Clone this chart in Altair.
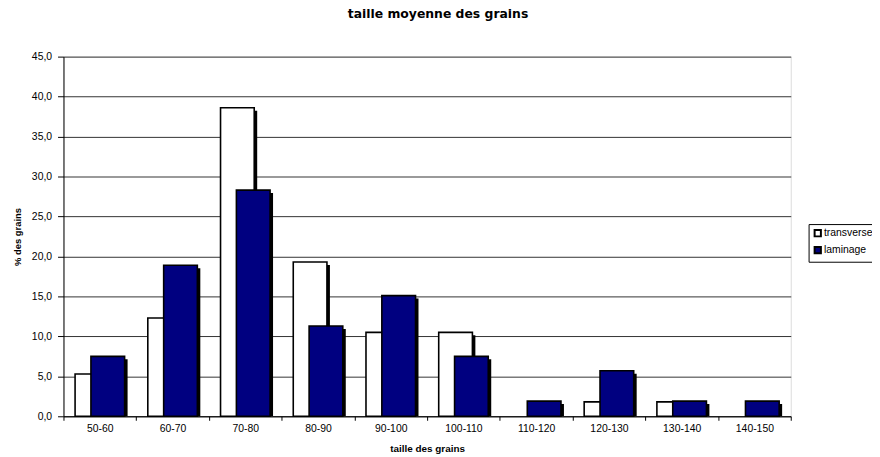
import altair as alt
import pandas as pd

cats = ["50-60", "60-70", "70-80", "80-90", "90-100", "100-110", "110-120", "120-130", "130-140", "140-150"]
transverse = [5.3, 12.3, 38.6, 19.3, 10.5, 10.5, 0.0, 1.8, 1.8, 0.0]
laminage = [7.5, 18.9, 28.3, 11.3, 15.1, 7.5, 1.9, 5.7, 1.9, 1.9]
series = ["transverse", "laminage"]
y_ticks = [0, 5, 10, 15, 20, 25, 30, 35, 40, 45]

df = pd.DataFrame({
    "cat": cats * 2,
    "series": ["transverse"] * len(cats) + ["laminage"] * len(cats),
    "value": transverse + laminage,
})
df = df[df["value"] > 0]

FONT = "Liberation Sans"

x = alt.X("cat:N",
          scale=alt.Scale(domain=cats, paddingInner=0, paddingOuter=0),
          axis=alt.Axis(title="taille des grains", labelAngle=0, tickBand="extent",
                        domainColor="black", tickColor="black", tickSize=4,
                        labelFont=FONT, labelFontSize=10.5, labelColor="black", labelPadding=3,
                        titleFont=FONT, titleFontSize=10, titleFontWeight="bold", titleColor="black",
                        titlePadding=10, grid=False))
y = alt.Y("value:Q",
          scale=alt.Scale(domain=[0, 45], nice=False),
          axis=alt.Axis(title="% des grains", values=y_ticks,
                        labelExpr="replace(format(datum.value, '.1f'), '.', ',')",
                        domainColor="black", tickColor="black", tickSize=6,
                        labelFont=FONT, labelFontSize=10.5, labelColor="black", labelPadding=6,
                        titleFont=FONT, titleFontSize=9.5, titleFontWeight="bold", titleColor="black",
                        titlePadding=9,
                        grid=True, gridColor="#333333", gridWidth=1))
y2 = alt.Y2(datum=0)

fill = alt.Fill("series:N",
                scale=alt.Scale(domain=series, range=["#FFFFFF", "#000080"]),
                legend=alt.Legend(title=None, orient="none", legendX=752, legendY=169,
                                  strokeColor="black", padding=4, fillColor="white",
                                  symbolType="square", symbolSize=40,
                                  symbolStrokeColor="black", symbolStrokeWidth=2,
                                  labelFont=FONT, labelFontSize=10.5, labelColor="black",
                                  rowPadding=2, labelOffset=1))

base = alt.Chart(df)
W = 34
OFF = 8

def layers(name, off):
    d = base.transform_filter(alt.datum.series == name)
    shadow = d.mark_bar(color="black", width=W, xOffset=off + 3, yOffset=3, clip=True).encode(x=x, y=y, y2=y2)
    bar = d.mark_bar(width=W, xOffset=off, stroke="black", strokeWidth=1.6).encode(x=x, y=y, y2=y2, fill=fill)
    return [shadow, bar]

chart = alt.layer(*layers("transverse", -OFF), *layers("laminage", OFF)).properties(
    width=734, height=363,
    title=alt.TitleParams("taille moyenne des grains", font="DejaVu Sans", fontSize=12.5, fontWeight="bold",
                          color="black", offset=31, anchor="middle", dx=11),
    autosize=alt.AutoSizeParams(type="none"),
    padding={"left": 56, "top": 47, "right": 82, "bottom": 39},
).configure_view(stroke=None).configure(background="white")

chart.save("out.html", embed_options={"renderer": "svg", "actions": False})
